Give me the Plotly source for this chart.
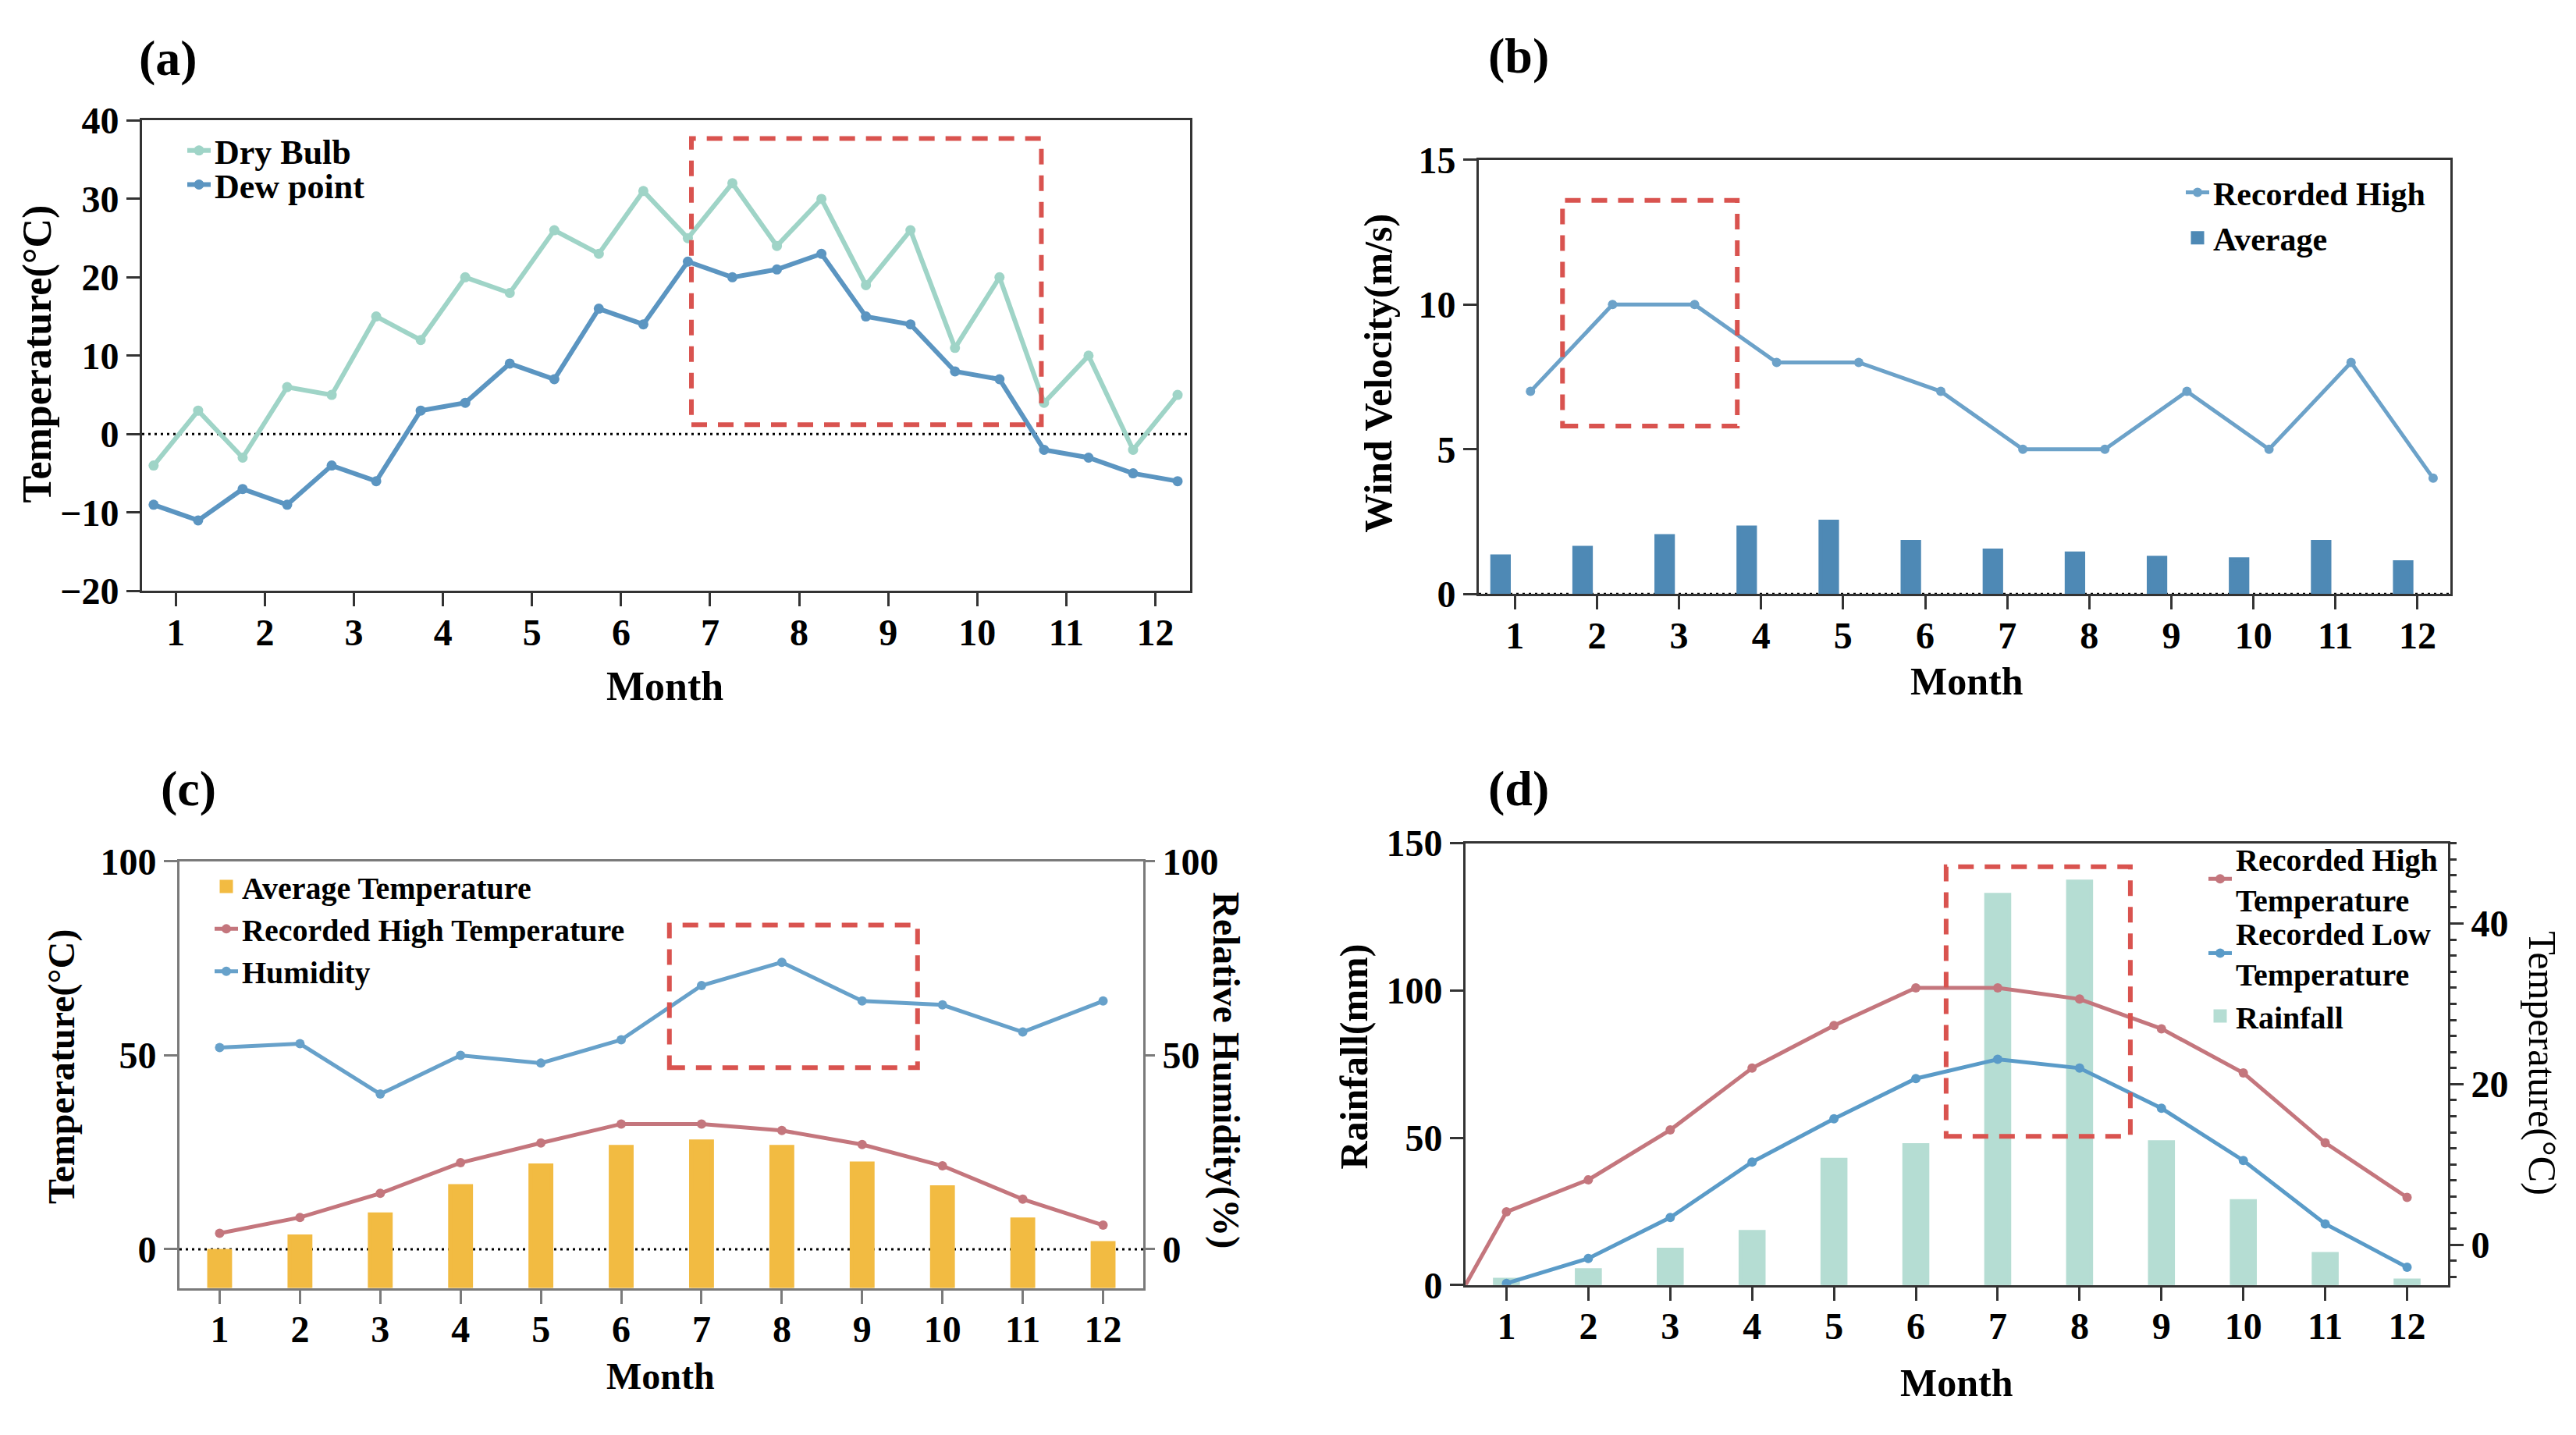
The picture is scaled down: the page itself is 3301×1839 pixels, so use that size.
import plotly.graph_objects as go

# page geometry: the browser body keeps its default 8px margin, so the figure is
# sized to fit inside the 3301x1839 window and positions are given in window pixels
WIN_W, WIN_H = 3301, 1839
OFF = 8
W, H = WIN_W - 2 * OFF, WIN_H - 2 * OFF
FONT = "Liberation Serif, Times New Roman, serif"

# ---------------- data ----------------
months = list(range(1, 13))
month_labels = [str(m) for m in months]

# (a) two readings per month
a_x = [0.75, 1.25, 1.75, 2.25, 2.75, 3.25, 3.75, 4.25, 4.75, 5.25, 5.75, 6.25,
       6.75, 7.25, 7.75, 8.25, 8.75, 9.25, 9.75, 10.25, 10.75, 11.25, 11.75, 12.25]
dry_bulb = [-4, 3, -3, 6, 5, 15, 12, 20, 18, 26, 23, 31,
            25, 32, 24, 30, 19, 26, 11, 20, 4, 10, -2, 5]
dew_point = [-9, -11, -7, -9, -4, -6, 3, 4, 9, 7, 16, 14,
             22, 20, 21, 23, 15, 14, 8, 7, -2, -3, -5, -6]

# (b) wind velocity
wind_high = [7, 10, 10, 8, 8, 7, 5, 5, 7, 5, 8, 4]
wind_avg = [1.3, 1.6, 2.0, 2.3, 2.5, 1.8, 1.5, 1.4, 1.25, 1.2, 1.8, 1.1]

# (c) temperature & humidity
avg_temp = [-0.4, 3.3, 9.0, 16.3, 21.6, 26.4, 27.8, 26.4, 22.1, 16.0, 7.7, 1.6]
high_temp_c = [4.1, 8.2, 14.4, 22.3, 27.4, 32.3, 32.3, 30.6, 27.0, 21.5, 12.9, 6.2]
humidity = [52, 53, 40, 50, 48, 54, 68, 74, 64, 63, 56, 64]

# (d) rainfall & temperature
rainfall = [1.8, 5, 12, 18, 42.5, 47.5, 132.5, 137, 48.5, 28.5, 10.5, 1.5]
high_temp_d_x = [0] + months
high_temp_d = [-14.1, 4.1, 8.1, 14.3, 22.0, 27.3, 32.0, 32.0, 30.6, 26.9, 21.4, 12.7, 5.9]
low_temp_d = [-4.8, -1.7, 3.4, 10.3, 15.7, 20.7, 23.1, 22.0, 17.0, 10.5, 2.6, -2.8]

# highlighted regions (x0, x1, y0, y1) in data units
box_a = (6.79, 10.72, 1.2, 37.7)
box_b = (1.58, 3.71, 5.8, 13.6)
box_c = (6.6, 9.69, 46.8, 83.6)
box_d = (6.37, 8.62, 50.5, 142)

# ---------------- colours ----------------
C_DRY = "#9fd4c7"
C_DEW = "#5b95c1"
C_WIND_LINE = "#6ca2c9"
C_WIND_BAR = "#4e89b5"
C_AVG_T = "#f2bb42"
C_HIGH = "#c4767d"
C_HUM = "#67a1ca"
C_LOW = "#5a9bc8"
C_RAIN = "#b5ddd3"
C_BOX = "#d9534f"

BAR_EDGE = 5  # same-colour bar outline (also enlarges the legend swatch)


def px_x(p):
    return (p - OFF) / W


def px_y(p):
    return 1 - (p - OFF) / H


def tfont(size, weight="bold"):
    return dict(family=FONT, size=size, color="black", weight=weight)


fig = go.Figure()

# ---- (a)
fig.add_trace(go.Scatter(x=a_x, y=dry_bulb, name="Dry Bulb", mode="lines+markers",
                         line=dict(color=C_DRY, width=6), marker=dict(size=13, color=C_DRY),
                         xaxis="x", yaxis="y", legend="legend"))
fig.add_trace(go.Scatter(x=a_x, y=dew_point, name="Dew point", mode="lines+markers",
                         line=dict(color=C_DEW, width=6), marker=dict(size=13, color=C_DEW),
                         xaxis="x", yaxis="y", legend="legend2"))

# ---- (b)
fig.add_trace(go.Scatter(x=[m + 0.19 for m in months], y=wind_high, name="Recorded High",
                         mode="lines+markers", line=dict(color=C_WIND_LINE, width=5),
                         marker=dict(size=12, color=C_WIND_LINE),
                         xaxis="x2", yaxis="y2", legend="legend3"))
fig.add_trace(go.Bar(x=months, y=wind_avg, name="Average", width=0.202, offset=-0.276,
                     marker=dict(color=C_WIND_BAR, line=dict(width=BAR_EDGE, color=C_WIND_BAR)),
                     xaxis="x2", yaxis="y2", legend="legend4"))

# ---- (c)
C_YMIN = -10
fig.add_trace(go.Bar(x=months, y=[v - C_YMIN for v in avg_temp], base=C_YMIN,
                     name="Average Temperature", width=0.261,
                     marker=dict(color=C_AVG_T, line=dict(width=BAR_EDGE, color=C_AVG_T)),
                     xaxis="x3", yaxis="y3", legend="legend5"))
fig.add_trace(go.Scatter(x=months, y=high_temp_c, name="Recorded High Temperature",
                         mode="lines+markers", line=dict(color=C_HIGH, width=5),
                         marker=dict(size=12, color=C_HIGH),
                         xaxis="x3", yaxis="y3", legend="legend6"))
fig.add_trace(go.Scatter(x=months, y=humidity, name="Humidity",
                         mode="lines+markers", line=dict(color=C_HUM, width=5),
                         marker=dict(size=12, color=C_HUM),
                         xaxis="x3", yaxis="y4", legend="legend7"))

# ---- (d)
fig.add_trace(go.Bar(x=months, y=rainfall, name="Rainfall", width=0.282,
                     marker=dict(color=C_RAIN, line=dict(width=BAR_EDGE, color=C_RAIN)),
                     xaxis="x4", yaxis="y5", legend="legend10"))
fig.add_trace(go.Scatter(x=high_temp_d_x, y=high_temp_d, name="Recorded High<br>Temperature",
                         mode="lines+markers", line=dict(color=C_HIGH, width=5),
                         marker=dict(size=12, color=C_HIGH),
                         xaxis="x4", yaxis="y6", legend="legend8"))
fig.add_trace(go.Scatter(x=months, y=low_temp_d, name="Recorded Low<br>Temperature",
                         mode="lines+markers", line=dict(color=C_LOW, width=5),
                         marker=dict(size=12, color=C_LOW),
                         xaxis="x4", yaxis="y6", legend="legend9"))

TICK_SIZE = 48


def xax(dom, rng, anchor, color="#333333"):
    return dict(domain=dom, range=rng, anchor=anchor, tickmode="array",
                tickvals=months, ticktext=month_labels, ticks="outside", ticklen=17,
                tickwidth=3, tickcolor=color, showline=True, linewidth=3, linecolor=color,
                mirror=True, showgrid=False, zeroline=False, tickfont=tfont(TICK_SIZE),
                ticklabelstandoff=-8)


def yax(dom, rng, anchor, dtick, color="#333333", mirror=True):
    return dict(domain=dom, range=rng, anchor=anchor, dtick=dtick, tick0=0,
                ticks="outside", ticklen=17, tickwidth=3, tickcolor=color,
                showline=True, linewidth=3, linecolor=color, mirror=mirror,
                showgrid=False, zeroline=False, tickfont=tfont(TICK_SIZE))


def leg(text_x, yc, size):
    return dict(x=px_x(text_x - 42), y=px_y(yc), xanchor="left", yanchor="middle",
                bgcolor="rgba(0,0,0,0)", borderwidth=0, font=tfont(size),
                itemwidth=30, tracegroupgap=0, itemclick=False, itemdoubleclick=False)


dom_xa = [px_x(182), px_x(1525)]
dom_ya = [px_y(753), px_y(132)]
dom_xb = [px_x(1895), px_x(3140)]
dom_yb = [px_y(757), px_y(184)]
dom_xc = [px_x(230), px_x(1465)]
dom_yc = [px_y(1673), px_y(1110)]
dom_xd = [px_x(1878), px_x(3137)]
dom_yd = [px_y(1669), px_y(1086)]

GRAY_C = "#7a7a7a"

fig.update_layout(
    width=W, height=H, margin=dict(l=0, r=0, t=0, b=0),
    paper_bgcolor="white", plot_bgcolor="white",
    barmode="overlay", showlegend=True,
    xaxis=xax(dom_xa, [0.62, 12.39], "y"),
    yaxis=yax(dom_ya, [-20, 40], "x", 10),
    xaxis2=xax(dom_xb, [0.56, 12.4], "y2"),
    yaxis2=yax(dom_yb, [0, 15], "x2", 5),
    xaxis3=xax(dom_xc, [0.5, 12.5], "y3", GRAY_C),
    yaxis3=yax(dom_yc, [-10, 100], "x3", 50, GRAY_C, mirror=False),
    yaxis4=dict(yax(dom_yc, [-10, 100], "x3", 50, GRAY_C, mirror=False),
                overlaying="y3", side="right", ticklen=12),
    xaxis4=xax(dom_xd, [0.5, 12.5], "y5"),
    yaxis5=yax(dom_yd, [0, 150], "x4", 50, mirror=False),
    yaxis6=dict(yax(dom_yd, [-5, 50], "x4", 20, mirror=False), overlaying="y5",
                side="right", minor=dict(dtick=2, ticks="outside", ticklen=8,
                                          tickwidth=3, tickcolor="#333333")),
    legend=leg(277, 172, 44),
    legend2=leg(277, 217, 44),
    legend3=leg(2838, 227, 42),
    legend4=leg(2838, 287, 42),
    legend5=leg(312, 1143, 40),
    legend6=leg(312, 1199, 40),
    legend7=leg(312, 1255, 40),
    legend8=leg(2867, 1133, 40),
    legend9=leg(2867, 1231, 40),
    legend10=leg(2867, 1314, 40),
)

# zero reference lines (dotted)
for xr, yr in [("x", "y"), ("x2", "y2"), ("x3", "y3")]:
    fig.add_shape(type="line", xref=f"{xr} domain", x0=0, x1=1, yref=yr, y0=0, y1=0,
                  line=dict(color="black", width=3, dash="3px,5px"), layer="below")

# highlight boxes
for (x0, x1, y0, y1), xr, yr in [(box_a, "x", "y"), (box_b, "x2", "y2"),
                                  (box_c, "x3", "y3"), (box_d, "x4", "y5")]:
    fig.add_shape(type="rect", xref=xr, yref=yr, x0=x0, x1=x1, y0=y0, y1=y1,
                  line=dict(color=C_BOX, width=6, dash="20px,14px"),
                  fillcolor="rgba(0,0,0,0)", layer="above")

# panel labels and axis titles
ann = []


def add_text(text, x, y, size, angle=0, weight="bold"):
    ann.append(dict(text=text, x=px_x(x), y=px_y(y), xref="paper", yref="paper",
                    xanchor="center", yanchor="middle", showarrow=False,
                    textangle=angle, font=tfont(size, weight)))


add_text("(a)", 215, 50, 64)
add_text("(b)", 1946, 47, 64)
add_text("(c)", 241, 1014, 64)
add_text("(d)", 1946, 1014, 64)

add_text("Month", 852, 879, 52)
add_text("Temperature(°C)", 48, 440, 52, -90)
add_text("Month", 2520, 872, 50)
add_text("Wind Velocity(m/s)", 1766, 465, 50, -90)
add_text("Month", 846, 1789, 48)
add_text("Temperature(°C)", 79, 1381, 48, -90)
add_text("Relative Humidity(%)", 1571, 1385, 48, 90)
add_text("Month", 2507, 1798, 50)
add_text("Rainfall(mm)", 1735, 1368, 50, -90)
add_text("Temperature(°C)", 3258, 1376, 50, 90, "normal")

fig.update_layout(annotations=ann)

fig.write_html("out.html")
